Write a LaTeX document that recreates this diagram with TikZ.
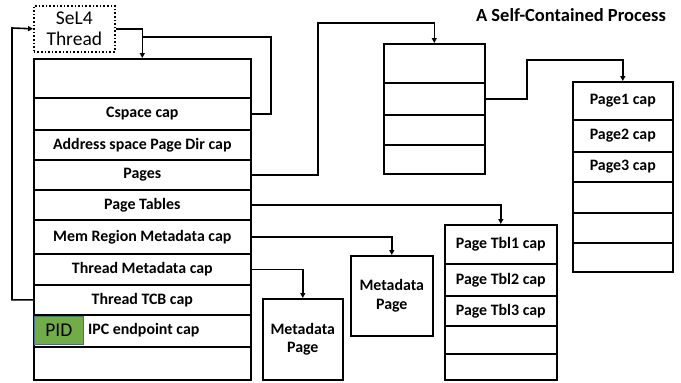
\documentclass[tikz,border=0pt]{standalone}
\usepackage{fontspec}
\setmainfont{Carlito}
\usetikzlibrary{arrows.meta}
\begin{document}
\begin{tikzpicture}[x=1pt,y=-1pt,
  cell/.style={draw, line width=1.6pt, inner sep=0pt, anchor=north west, font=\bfseries\fontsize{15.9}{18.5}\selectfont, align=center},
  conn/.style={line width=1.6pt},
  arr/.style={line width=1.6pt, -{Triangle[length=5pt,width=5pt]}},
  ]
\useasboundingbox (0,0) rectangle (681,383);
% SeL4 thread box
\node[draw, dotted, line width=1.6pt, inner sep=0pt, anchor=north west, minimum width=81pt, minimum height=46pt, align=center, font=\fontsize{19.5}{21}\selectfont] (sel4) at (33,5) {SeL4\\Thread};
% title
\node[font=\bfseries\fontsize{18.5}{20}\selectfont] (title) at (571,15) {A Self-Contained Process};
% main table
\node[cell, minimum width=217pt, minimum height=39pt] (m0) at (33,58) {};
\node[cell, minimum width=217pt, minimum height=32pt] (m1) at (33,97) {Cspace cap};
\node[cell, minimum width=217pt, minimum height=30pt] (m2) at (33,129) {Address space Page Dir cap};
\node[cell, minimum width=217pt, minimum height=30pt] (m3) at (33,159) {Pages};
\node[cell, minimum width=217pt, minimum height=30pt] (m4) at (33,189) {Page Tables};
\node[cell, minimum width=217pt, minimum height=34pt] (m5) at (33,219) {Mem Region Metadata cap};
\node[cell, minimum width=217pt, minimum height=31pt] (m6) at (33,253) {Thread Metadata cap};
\node[cell, minimum width=217pt, minimum height=30pt] (m7) at (33,284) {Thread TCB cap};
\node[cell, minimum width=217pt, minimum height=32pt] (m8) at (33,314) {};
\node[cell, minimum width=217pt, minimum height=33pt] (m9) at (33,346) {};
\node[draw={rgb,255:red,65;green,113;blue,156}, line width=0.8pt, fill={rgb,255:red,112;green,173;blue,71}, anchor=north west, inner sep=0pt, minimum width=49pt, minimum height=28pt, font=\fontsize{19.5}{21}\selectfont] (pid) at (34,316) {PID};
\node[anchor=west, inner sep=0pt, font=\bfseries\fontsize{15.9}{17.5}\selectfont] (ipc) at (88,330) {IPC endpoint cap};
% table 2
\node[cell, minimum width=101pt, minimum height=39pt] (t2a) at (383,43) {};
\node[cell, minimum width=101pt, minimum height=32pt] (t2b) at (383,82) {};
\node[cell, minimum width=101pt, minimum height=30pt] (t2c) at (383,114) {};
\node[cell, minimum width=101pt, minimum height=29pt] (t2d) at (383,144) {};
% table 3
\node[cell, minimum width=100pt, minimum height=38pt] (t3a) at (572,81) {Page1 cap};
\node[cell, minimum width=100pt, minimum height=32pt] (t3b) at (572,119) {Page2 cap};
\node[cell, minimum width=100pt, minimum height=30pt] (t3c) at (572,151) {Page3 cap};
\node[cell, minimum width=100pt, minimum height=31pt] (t3d) at (572,181) {};
\node[cell, minimum width=100pt, minimum height=30pt] (t3e) at (572,212) {};
\node[cell, minimum width=100pt, minimum height=29pt] (t3f) at (572,242) {};
% table 4
\node[cell, minimum width=112pt, minimum height=39pt] (t4a) at (444,224) {Page Tbl1 cap};
\node[cell, minimum width=112pt, minimum height=32pt] (t4b) at (444,263) {Page Tbl2 cap};
\node[cell, minimum width=112pt, minimum height=30pt] (t4c) at (444,295) {Page Tbl3 cap};
\node[cell, minimum width=112pt, minimum height=28pt] (t4d) at (444,325) {};
\node[cell, minimum width=112pt, minimum height=26pt] (t4e) at (444,353) {};
% metadata pages
\node[cell, minimum width=80pt, minimum height=81pt] (md1) at (262,298) {Metadata\\Page};
\node[cell, minimum width=82pt, minimum height=80pt] (md2) at (350,255) {Metadata\\Page};
% connectors
\coordinate (j1) at (142,37);
\draw[arr] (sel4.east) -| (m0.north);
\draw[conn] (m1.east) -| (271,37) -- (j1);
\draw[arr] (m7.west) -| (12,28) -- (sel4.west);
\draw[arr] (m3.east) -| (318,23) -| (t2a.north);
\draw[arr] (t2b.east) -| (527,60) -| (t3a.north);
\draw[arr] (m4.east) -| (t4a.north);
\draw[arr] (m5.east) -| (md2.north);
\draw[arr] (m6.east) -| (md1.north);
\end{tikzpicture}
\end{document}
